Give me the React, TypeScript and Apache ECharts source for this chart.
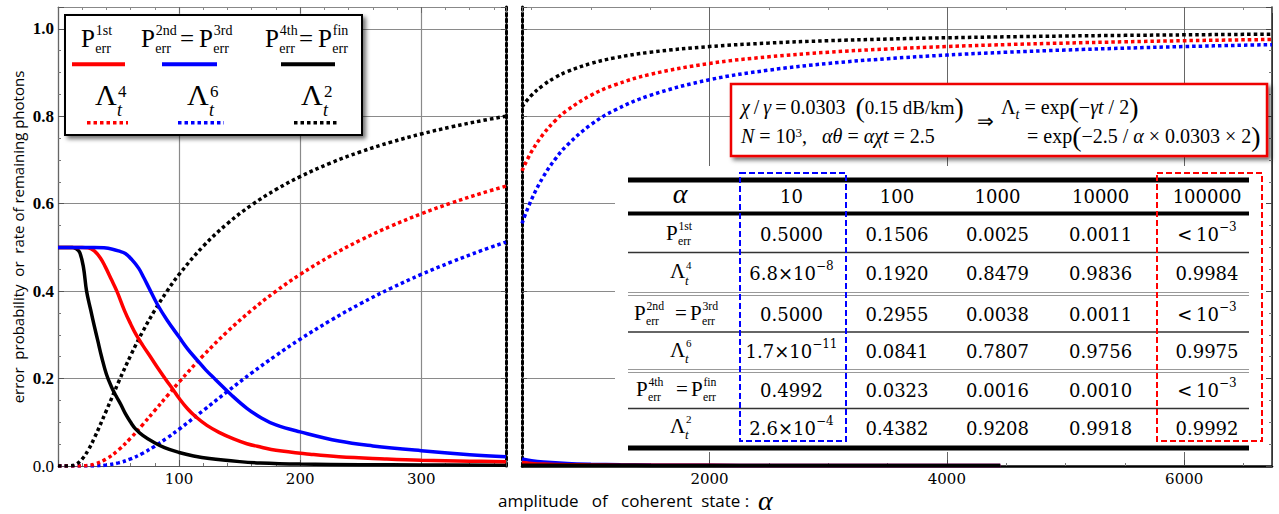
import React, { useEffect, useRef } from 'react';
import * as echarts from 'echarts';

// ---------------- data ----------------
// left panel, alpha 0..370
const p1stAlpha = [0, 20, 25, 30, 35, 39, 44, 48.6, 55, 60, 65, 70, 77, 83, 89, 95, 100, 107, 114, 123, 133, 145, 156, 168, 180, 208, 232, 270, 300, 340, 370];
const p1stValue = [0.5, 0.5, 0.499, 0.492, 0.476, 0.456, 0.427, 0.4, 0.355, 0.325, 0.298, 0.276, 0.247, 0.222, 0.198, 0.175, 0.155, 0.131, 0.112, 0.093, 0.077, 0.062, 0.051, 0.043, 0.036, 0.027, 0.021, 0.016, 0.013, 0.011, 0.01];

const p2ndAlpha = [0, 30, 38, 45, 50, 55.6, 61, 66.7, 71, 75, 82, 90, 100, 107, 115, 122, 130, 143, 156, 168, 180, 200, 232, 260, 300, 340, 370];
const p2ndValue = [0.5, 0.5, 0.499, 0.496, 0.492, 0.486, 0.472, 0.452, 0.43, 0.408, 0.37, 0.334, 0.295, 0.268, 0.242, 0.22, 0.198, 0.163, 0.132, 0.11, 0.094, 0.078, 0.057, 0.046, 0.035, 0.026, 0.021];

const p4thAlpha = [0, 12, 15, 18, 21, 23.6, 27, 30, 33, 36, 40, 44, 48, 52, 56, 60, 64, 70, 78, 88, 100, 112, 125, 150, 167, 200, 250, 300, 370];
const p4thValue = [0.5, 0.5, 0.497, 0.488, 0.455, 0.4, 0.357, 0.32, 0.285, 0.25, 0.21, 0.182, 0.16, 0.14, 0.118, 0.1, 0.085, 0.07, 0.056, 0.042, 0.031, 0.023, 0.017, 0.01, 0.007, 0.0045, 0.003, 0.0025, 0.002];

const lamAlphaL = [0, 5, 10, 15, 20, 25, 30, 40, 50, 60, 70, 80, 90, 100, 120, 140, 160, 180, 200, 225, 250, 275, 300, 325, 350, 370];
const lam2L = [0, 0, 0.0003, 0.0041, 0.0162, 0.0369, 0.0639, 0.1271, 0.192, 0.2528, 0.3077, 0.3566, 0.3998, 0.4382, 0.5028, 0.5547, 0.5972, 0.6323, 0.662, 0.693, 0.7189, 0.7408, 0.7596, 0.7758, 0.79, 0.8001];
const lam4L = [0, 0, 0, 0, 0.0003, 0.0014, 0.0041, 0.0162, 0.0369, 0.0639, 0.0947, 0.1272, 0.1599, 0.192, 0.2528, 0.3077, 0.3566, 0.3998, 0.4382, 0.4803, 0.5169, 0.5488, 0.5769, 0.6018, 0.6241, 0.6402];
const lam6L = [0, 0, 0, 0, 0, 0.0001, 0.0003, 0.0021, 0.0071, 0.0162, 0.0291, 0.0454, 0.0639, 0.0841, 0.1271, 0.1707, 0.213, 0.2528, 0.2901, 0.3328, 0.3716, 0.4066, 0.4382, 0.4668, 0.4931, 0.5122];

// right panel, alpha 420..6740
const lamAlphaR = [420, 500, 600, 700, 800, 1000, 1200, 1500, 2000, 2500, 3000, 3500, 4000, 4500, 5000, 5500, 6000, 6500, 6740];
const lam2R = [0.8217, 0.8479, 0.8715, 0.8888, 0.902, 0.9208, 0.9336, 0.9465, 0.9596, 0.9675, 0.9729, 0.9767, 0.9796, 0.9818, 0.9836, 0.9851, 0.9863, 0.9874, 0.9878];
const lam4R = [0.6752, 0.7189, 0.7595, 0.79, 0.8136, 0.8479, 0.8716, 0.8958, 0.9208, 0.9361, 0.9465, 0.954, 0.9596, 0.964, 0.9675, 0.9704, 0.9729, 0.9749, 0.9758];
const lam6R = [0.5548, 0.6096, 0.6619, 0.7021, 0.7339, 0.7807, 0.8137, 0.8479, 0.8836, 0.9056, 0.9208, 0.9318, 0.9401, 0.9465, 0.9516, 0.9559, 0.9595, 0.9626, 0.9639];

const pAlphaR = [420, 500, 600, 800, 1000, 1250, 1500, 2000, 2500, 3000, 3500, 4000, 4450];
const p2ndR = [0.016, 0.012, 0.009, 0.0055, 0.0038, 0.0028, 0.0022, 0.0016, 0.0013, 0.0012, 0.0011, 0.0011, 0.0011];
const p1stR = [0.008, 0.006, 0.0045, 0.003, 0.0025, 0.002, 0.0018, 0.0015, 0.0013, 0.0012, 0.0011, 0.0011, 0.0011];
const p4thR = [0.002, 0.0019, 0.0018, 0.0017, 0.0016, 0.0015, 0.0014, 0.0013, 0.0012, 0.0011, 0.0011, 0.001, 0.001];

// table
const tableAlphas = ['10', '100', '1000', '10000', '100000'];
const rowP1st = ['0.5000', '0.1506', '0.0025', '0.0011', '<\u200910^−3'];
const rowLam4 = ['6.8×10^−8', '0.1920', '0.8479', '0.9836', '0.9984'];
const rowP2nd = ['0.5000', '0.2955', '0.0038', '0.0011', '<\u200910^−3'];
const rowLam6 = ['1.7×10^−11', '0.0841', '0.7807', '0.9756', '0.9975'];
const rowP4th = ['0.4992', '0.0323', '0.0016', '0.0010', '<\u200910^−3'];
const rowLam2 = ['2.6×10^−4', '0.4382', '0.9208', '0.9918', '0.9992'];

const yTicks = [0, 0.2, 0.4, 0.6, 0.8, 1.0];

// ---------------- helpers ----------------
const SERIF = 'Liberation Serif';
const DSERIF = 'DejaVu Serif';
const SANS = 'Open Sans';
const RED = '#ff0000';
const BLUE = '#0000ff';
const BLACK = '#000000';

const zip = (xs: number[], ys: number[]) => xs.map((x, i) => [x, ys[i]]);

function T(x: number, base: number, text: string, size: number, o: any = {}) {
  return {
    type: 'text',
    z: 100,
    x,
    y: base - 0.34 * size,
    style: {
      text,
      fontSize: size,
      fontFamily: o.family || SERIF,
      fontStyle: o.italic ? 'italic' : 'normal',
      fontWeight: o.bold ? 'bold' : 'normal',
      fill: o.fill || '#000',
      align: o.align || 'left',
      verticalAlign: 'middle',
    },
  };
}

function perr(x: number, base: number, sup: string, S: number) {
  return [
    T(x, base, 'P', S),
    T(x + 0.59 * S, base - 0.44 * S, sup, 0.56 * S),
    T(x + 0.57 * S, base + 0.26 * S, 'err', 0.56 * S),
  ];
}

function lam(x: number, base: number, n: string, S: number, supDx: number, supDy: number, supS: number, subDx: number, subDy: number, subS: number) {
  return [
    T(x, base, 'Λ', S),
    T(x + supDx, base - supDy, n, supS),
    T(x + subDx, base + subDy, 't', subS, { italic: true }),
  ];
}

function hline(x1: number, x2: number, y: number, color: string, w: number, dash?: number[]) {
  return {
    type: 'line', z: 100,
    shape: { x1, y1: y, x2, y2: y },
    style: { stroke: color, lineWidth: w, lineDash: dash || null },
  };
}

function valueRich(s: string) {
  if (s.indexOf('^') >= 0) {
    const [a, b] = s.split('^');
    return `{n|${a}}{e|${b}}`;
  }
  return `{n|${s}}`;
}

const tableRich = {
  n: { fontSize: 18, fontFamily: DSERIF, fill: '#000', lineHeight: 26 },
  e: { fontSize: 12, fontFamily: DSERIF, fill: '#000', lineHeight: 12, verticalAlign: 'top' },
};

function buildGraphics() {
  const g: any[] = [];

  // ---- legend box ----
  g.push({
    type: 'rect', z: 100,
    shape: { x: 65, y: 15, width: 297, height: 120 },
    style: { fill: '#fff', stroke: '#000', lineWidth: 2, shadowBlur: 4, shadowOffsetX: 3, shadowOffsetY: 3, shadowColor: 'rgba(0,0,0,0.55)' },
  });
  g.push(...perr(81, 46.7, '1st', 25));
  g.push(...perr(141, 46.7, '2nd', 25));
  g.push(T(180, 46.7, '=', 25));
  g.push(...perr(199, 46.7, '3rd', 25));
  g.push(...perr(265, 46.7, '4th', 25));
  g.push(T(299, 46.7, '=', 25));
  g.push(...perr(318, 46.7, 'fin', 25));
  g.push(hline(72, 125, 64.3, RED, 4));
  g.push(hline(162, 217, 64.3, BLUE, 4));
  g.push(hline(281, 335, 64.3, BLACK, 4));
  g.push(...lam(95, 105, '4', 30, 23, 8, 17, 22, 11, 18));
  g.push(...lam(187, 105, '6', 30, 23, 8, 17, 22, 11, 18));
  g.push(...lam(301, 105, '2', 30, 23, 8, 17, 22, 11, 18));
  g.push(hline(87, 128, 122.7, RED, 3.5, [3.5, 3]));
  g.push(hline(178, 224, 122.7, BLUE, 3.5, [3.5, 3]));
  g.push(hline(294, 339, 122.7, BLACK, 3.5, [3.5, 3]));

  // ---- formula box ----
  g.push({
    type: 'rect', z: 100,
    shape: { x: 731, y: 84, width: 536, height: 72 },
    style: { fill: '#fff', stroke: '#ee0000', lineWidth: 2.5, shadowBlur: 4, shadowOffsetX: 3, shadowOffsetY: 3, shadowColor: 'rgba(0,0,0,0.55)' },
  });
  const fr = {
    n: { fontSize: 20, fontFamily: SERIF, fill: '#000' },
    i: { fontSize: 20, fontFamily: SERIF, fontStyle: 'italic', fill: '#000' },
    p: { fontSize: 28, fontFamily: SERIF, fill: '#000' },
    s: { fontSize: 19, fontFamily: SERIF, fill: '#000' },
    sup: { fontSize: 13, fontFamily: SERIF, fill: '#000', verticalAlign: 'top' },
    sub: { fontSize: 14, fontFamily: SERIF, fontStyle: 'italic', fill: '#000', verticalAlign: 'bottom' },
  };
  const ftext = (x: number, y: number, text: string) => ({
    type: 'text', z: 101, x, y,
    style: { text, rich: fr, align: 'left', verticalAlign: 'middle' },
  });
  g.push(ftext(741, 107, '{i|χ}{n|\u2009/\u2009}{i|γ}{n|\u2009=\u20090.0303\u2002}{p|(}{s|0.15 dB/km}{p|)}'));
  g.push(ftext(741, 136, '{i|N}{n| = 10}{sup|3}{n|,   }{i|αθ}{n| = }{i|αχt}{n| = 2.5}'));
  g.push(T(977, 128, '⇒', 20));
  g.push(ftext(1001, 107, '{n|Λ}{sub|t}{n| = exp}{p|(}{n|−}{i|γt}{n| / 2}{p|)}'));
  g.push(ftext(1027, 136, '{n|= exp}{p|(}{n|−2.5 / }{i|α}{n| × 0.0303 × 2}{p|)}'));

  // ---- table ----
  g.push({ type: 'rect', z: 100, shape: { x: 615, y: 166, width: 651, height: 286 }, style: { fill: '#fff' } });
  const colX = [791.5, 897, 997.5, 1100.6, 1207];
  g.push(hline(628, 1249, 180, '#000', 5));
  g.push(hline(628, 1249, 213.5, '#000', 4));
  g.push(hline(628, 1249, 448, '#000', 5));
  g.push(hline(628, 1249, 252.5, '#333', 1.3));
  g.push(hline(628, 1249, 292.5, '#999', 1));
  g.push(hline(628, 1249, 295.5, '#999', 1));
  g.push(hline(628, 1249, 332, '#333', 1.3));
  g.push(hline(628, 1249, 369.5, '#999', 1));
  g.push(hline(628, 1249, 372.5, '#999', 1));
  g.push(hline(628, 1249, 408.5, '#333', 1.3));

  g.push({ type: 'text', z: 101, x: 680, y: 193, style: { text: 'α', fontSize: 28, fontFamily: SERIF, fontStyle: 'italic', fill: '#000', align: 'center', verticalAlign: 'middle' } });
  tableAlphas.forEach((s, i) => {
    g.push({ type: 'text', z: 101, x: colX[i], y: 196, style: { text: `{n|${s}}`, rich: tableRich, align: 'center', verticalAlign: 'middle' } });
  });
  const rows = [rowP1st, rowLam4, rowP2nd, rowLam6, rowP4th, rowLam2];
  const rowY = [234, 273, 314, 351, 390, 428];
  rows.forEach((row, r) => {
    row.forEach((s, i) => {
      g.push({ type: 'text', z: 101, x: colX[i], y: rowY[r], style: { text: valueRich(s), rich: tableRich, align: 'center', verticalAlign: 'middle' } });
    });
  });
  g.push(...perr(666, 240, '1st', 21));
  g.push(...lam(670, 278.3, '4', 21, 16, 10, 11, 15, 6.5, 13));
  g.push(...perr(634, 320, '2nd', 21));
  g.push(T(675, 320, '=', 21));
  g.push(...perr(690, 320, '3rd', 21));
  g.push(...lam(670, 356.7, '6', 21, 16, 10, 11, 15, 6.5, 13));
  g.push(...perr(636, 396, '4th', 21));
  g.push(T(676, 396, '=', 21));
  g.push(...perr(691, 396, 'fin', 21));
  g.push(...lam(670, 432.7, '2', 21, 16, 10, 11, 15, 6.5, 13));

  // dashed highlight boxes
  g.push({ type: 'rect', z: 102, shape: { x: 740, y: 173, width: 106, height: 268 }, style: { fill: 'none', stroke: BLUE, lineWidth: 2, lineDash: [6, 3] } });
  g.push({ type: 'rect', z: 102, shape: { x: 1157, y: 173, width: 105, height: 268 }, style: { fill: 'none', stroke: RED, lineWidth: 2, lineDash: [6, 3] } });

  // ---- axis titles ----
  g.push({
    type: 'text', z: 100, x: 18, y: 237, rotation: Math.PI / 2,
    style: { text: 'error  probability  or  rate of remaining photons', fontSize: 15, fontFamily: SANS, fill: '#000', align: 'center', verticalAlign: 'middle' },
  });
  g.push({
    type: 'text', z: 100, x: 498, y: 500,
    style: {
      text: '{a|amplitude   of   coherent  state :  }{b|α}',
      rich: {
        a: { fontSize: 17, fontFamily: SANS, fill: '#000', lineHeight: 20 },
        b: { fontSize: 28, fontFamily: SERIF, fontStyle: 'italic', fill: '#000', lineHeight: 20 },
      },
      align: 'left', verticalAlign: 'middle',
    },
  });
  return g;
}

function line(data: number[][], color: string, dotted: boolean, xi: number, yi: number, z: number) {
  return {
    type: 'line',
    xAxisIndex: xi,
    yAxisIndex: yi,
    data,
    symbol: 'none',
    showSymbol: false,
    smooth: 0.4,
    silent: true,
    z,
    lineStyle: { color, width: 3.5, type: dotted ? [3.5, 3] : 'solid', cap: 'butt' },
  };
}

export default function App() {
  const ref = useRef<HTMLDivElement>(null);
  useEffect(() => {
    if (!ref.current) return;
    const chart = echarts.init(ref.current, null, { renderer: 'svg' });
    const tickLabel = { fontFamily: DSERIF, fontSize: 15, color: '#000', margin: 5 };
    const yCommon = { type: 'value', min: 0, max: 1.05, interval: 0.2 };
    const option: any = {
      animation: false,
      grid: [
        { left: 58, top: 7, width: 448, height: 459 },
        { left: 522, top: 7, width: 750, height: 459 },
      ],
      xAxis: [
        {
          gridIndex: 0, type: 'value', min: 0, max: 370, interval: 100, position: 'bottom',
          axisLine: { show: true, onZero: false, lineStyle: { color: '#555', width: 1.2 } },
          axisTick: { show: true, inside: true, length: 6, lineStyle: { color: '#555' } },
          minorTick: { show: true, splitNumber: 5, length: 3, lineStyle: { color: '#777' } },
          splitLine: { show: true, lineStyle: { color: '#8a8a8a', width: 1.2 } },
          axisLabel: { ...tickLabel, showMinLabel: false, showMaxLabel: false, formatter: (v: number) => (v === 0 || v >= 370 ? '' : String(v)) },
        },
        {
          gridIndex: 0, type: 'value', min: 0, max: 370, interval: 100, position: 'top',
          axisLine: { show: true, onZero: false, lineStyle: { color: '#888', width: 1 } },
          axisTick: { show: true, inside: true, length: 6, lineStyle: { color: '#666' } },
          minorTick: { show: true, splitNumber: 5, length: 3, lineStyle: { color: '#888' } },
          splitLine: { show: false }, axisLabel: { show: false },
        },
        {
          gridIndex: 1, type: 'value', min: 420, max: 6740, splitNumber: 3, position: 'bottom',
          axisLine: { show: true, onZero: false, lineStyle: { color: '#000', width: 2.5 } },
          axisTick: { show: true, inside: true, length: 6, lineStyle: { color: '#444' } },
          minorTick: { show: true, splitNumber: 4, length: 3, lineStyle: { color: '#777' } },
          splitLine: { show: true, lineStyle: { color: '#666', width: 1 } },
          axisLabel: { ...tickLabel, showMinLabel: false, showMaxLabel: false, formatter: (v: number) => String(Math.round(v)) },
        },
        {
          gridIndex: 1, type: 'value', min: 420, max: 6740, splitNumber: 3, position: 'top',
          axisLine: { show: true, onZero: false, lineStyle: { color: '#888', width: 1 } },
          axisTick: { show: true, inside: true, length: 6, lineStyle: { color: '#666' } },
          minorTick: { show: true, splitNumber: 4, length: 3, lineStyle: { color: '#888' } },
          splitLine: { show: false }, axisLabel: { show: false },
        },
      ],
      yAxis: [
        {
          ...yCommon, gridIndex: 0, position: 'left',
          axisLine: { show: true, onZero: false, lineStyle: { color: '#666', width: 1.2 } },
          axisTick: { show: true, inside: true, length: 6, lineStyle: { color: '#555' } },
          minorTick: { show: true, splitNumber: 4, length: 3, lineStyle: { color: '#777' } },
          splitLine: { show: true, lineStyle: { color: '#8a8a8a', width: 1.2 } },
          axisLabel: {
            margin: 4, showMaxLabel: false,
            formatter: (v: number) => {
              if (!yTicks.some((t) => Math.abs(t - v) < 1e-6)) return '';
              return v === 0 ? '{r|0.0}' : `{b|${v.toFixed(1)}}`;
            },
            rich: {
              b: { fontFamily: SERIF, fontWeight: 'bold', fontSize: 17, color: '#000' },
              r: { fontFamily: SERIF, fontSize: 17, color: '#000' },
            },
          },
        },
        {
          ...yCommon, gridIndex: 0, position: 'right',
          axisLine: { show: true, onZero: false, lineStyle: { color: '#000', width: 3, type: [3, 3] } },
          axisTick: { show: true, inside: true, length: 5, lineStyle: { color: '#555' } },
          minorTick: { show: false },
          splitLine: { show: false }, axisLabel: { show: false },
        },
        {
          ...yCommon, gridIndex: 1, position: 'left',
          axisLine: { show: true, onZero: false, lineStyle: { color: '#000', width: 3, type: [3, 3] } },
          axisTick: { show: true, inside: true, length: 5, lineStyle: { color: '#555' } },
          minorTick: { show: false },
          splitLine: { show: true, lineStyle: { color: '#8a8a8a', width: 1.2 } },
          axisLabel: { show: false },
        },
        {
          ...yCommon, gridIndex: 1, position: 'right',
          axisLine: { show: true, onZero: false, lineStyle: { color: '#222', width: 1.5 } },
          axisTick: { show: true, inside: true, length: 6, lineStyle: { color: '#444' } },
          minorTick: { show: true, splitNumber: 4, length: 3, lineStyle: { color: '#777' } },
          splitLine: { show: false }, axisLabel: { show: false },
        },
      ],
      series: [
        line(zip(lamAlphaL, lam6L), BLUE, true, 0, 0, 3),
        line(zip(lamAlphaL, lam4L), RED, true, 0, 0, 3),
        line(zip(lamAlphaL, lam2L), BLACK, true, 0, 0, 3),
        line(zip(p4thAlpha, p4thValue), BLACK, false, 0, 0, 4),
        line(zip(p1stAlpha, p1stValue), RED, false, 0, 0, 4),
        line(zip(p2ndAlpha, p2ndValue), BLUE, false, 0, 0, 4),
        line(zip(lamAlphaR, lam6R), BLUE, true, 2, 2, 3),
        line(zip(lamAlphaR, lam4R), RED, true, 2, 2, 3),
        line(zip(lamAlphaR, lam2R), BLACK, true, 2, 2, 3),
        line(zip(pAlphaR, p2ndR), BLUE, false, 2, 2, 4),
        line(zip(pAlphaR, p1stR), RED, false, 2, 2, 4),
        line(zip(pAlphaR, p4thR), BLACK, false, 2, 2, 4),
      ],
      graphic: { elements: buildGraphics() },
    };
    chart.setOption(option);
    return () => chart.dispose();
  }, []);
  return <div ref={ref} style={{ position: 'absolute', left: 0, top: 0, width: 1279, height: 514, background: '#fff' }} />;
}
